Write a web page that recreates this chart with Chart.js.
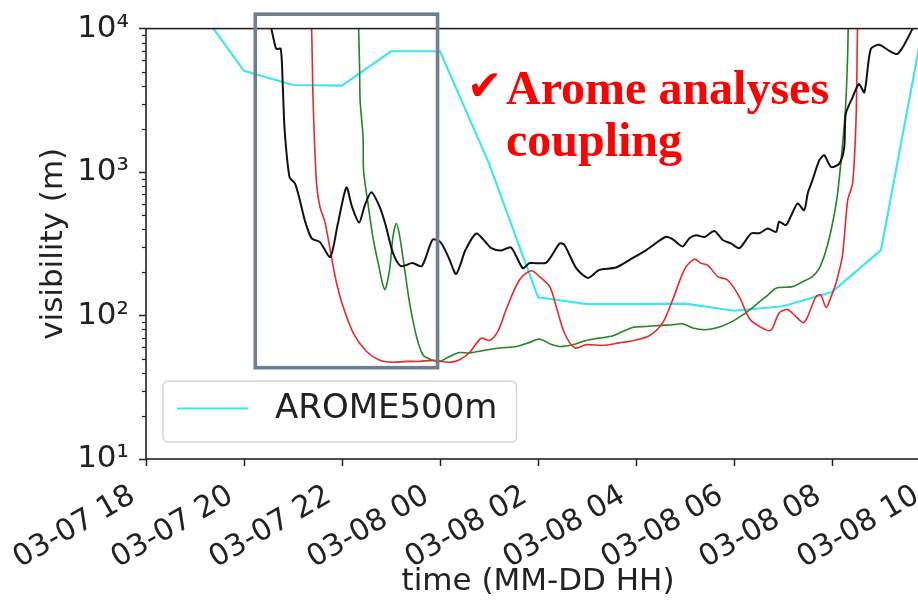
<!DOCTYPE html>
<html><head><meta charset="utf-8">
<script src="https://cdn.jsdelivr.net/npm/chart.js@4/dist/chart.umd.min.js"></script>
<style>
html,body{margin:0;padding:0;overflow:hidden;background:#fff;width:918px;height:601px}
#wrap{position:relative;width:960px;height:601px}
</style>
</head><body><div id="wrap"><canvas id="c" width="960" height="601"></canvas></div>
<script>
// ---- axis ticks ----
const xTickHours = [0, 2, 4, 6, 8, 10, 12, 14, 16];   // hours after 03-07 18:00
const xTickLabels = ['03-07 18', '03-07 20', '03-07 22', '03-08 00', '03-08 02', '03-08 04', '03-08 06', '03-08 08', '03-08 10'];
const yMajorTicks = [10, 100, 1000, 10000];
const yTickLabels = ['10¹', '10²', '10³', '10⁴'];

// ---- series (time in hours after 03-07 18:00, visibility in m) ----
const obsHours = [2.50,2.56,2.62,2.66,2.75,2.79,2.83,2.93,3.04,3.14,3.24,3.38,3.55,3.76,3.91,4.09,4.20,4.35,4.46,4.60,4.77,4.89,5.04,5.20,5.44,5.63,5.85,6.01,6.18,6.33,6.52,6.74,6.91,7.05,7.25,7.45,7.69,7.83,8.17,8.44,8.54,8.78,9.02,9.25,9.59,9.90,10.21,10.61,10.75,10.95,11.09,11.23,11.40,11.60,11.77,11.94,12.11,12.35,12.52,12.69,12.86,12.92,13.06,13.17,13.30,13.43,13.51,13.60,13.74,13.84,13.98,14.15,14.25,14.28,14.42,14.55,14.66,14.79,14.96,15.17,15.33,15.44,15.57,15.64,15.78];
const obsValues = [11500,9900,8000,7230,7230,4110,1950,919,834,636,462,345,325,256,427,783,580,445,580,722,569,427,273,221,232,221,338,325,252,195,286,373,331,295,284,298,214,232,234,318,310,214,183,208,216,248,286,354,340,303,346,363,353,389,336,318,295,373,375,404,383,450,427,500,605,542,722,875,1205,1310,1085,1145,1490,2540,3320,4110,3590,7190,7710,7000,6650,7380,8900,9900,11300];

const redHours = [3.35,3.38,3.41,3.48,3.55,3.65,3.79,3.89,4.02,4.23,4.50,4.77,5.04,5.31,5.59,5.86,6.20,6.40,6.60,6.84,7.01,7.18,7.35,7.62,7.86,8.03,8.24,8.37,8.54,8.75,8.98,9.32,9.66,9.93,10.27,10.54,10.75,10.99,11.19,11.33,11.46,11.67,11.87,12.11,12.31,12.52,12.75,12.92,13.09,13.23,13.43,13.67,13.77,13.88,13.98,14.08,14.21,14.32,14.42,14.49,14.52,14.53];
const redValues = [14000,9900,3150,834,571,450,251,168,116,75.5,56.2,48.7,47.2,47.9,47.9,48.7,47.2,49.2,55,69.5,67,77.5,110,177,205,187,159,116,75.5,59.5,62.6,62,64.5,66.7,72.3,88.5,129,210,247,231,225,187,177,135,95.7,83.9,78.7,104,110,101,89.4,135,139,114,135,168,257,636,834,2285,9900,13000];

const greenHours = [4.33,4.34,4.36,4.37,4.43,4.44,4.53,4.63,4.74,4.87,4.97,5.04,5.11,5.18,5.28,5.38,5.52,5.65,5.82,5.99,6.20,6.40,6.60,6.88,7.22,7.56,7.83,8.03,8.24,8.44,8.71,8.98,9.25,9.53,9.73,9.93,10.21,10.48,10.75,10.95,11.16,11.40,11.63,11.90,12.18,12.45,12.69,12.86,13.19,13.40,13.60,13.74,13.88,14.01,14.11,14.21,14.28,14.32,14.33,14.34];
const greenValues = [13000,9900,5080,3150,1750,1030,604,354,231,152,208,354,438,354,208,122,71.5,53.3,49.2,47.9,51.9,55.2,54.8,57.1,59.4,60.9,65,68.6,63.6,60.9,62.6,67,69.6,72.3,77.4,82.6,83.9,85.3,86.2,87.6,81.8,79.6,81.8,88.5,101,119,139,155,159,172,187,213,286,438,690,1490,2985,6640,9900,13000];

const aromeHours = [0, 1, 2, 3, 4, 5, 6, 7, 8, 9, 10, 11, 12, 13, 14, 15, 16];
const aromeValues = [20000,15000,5080,4045,4000,6950,6950,1150,134,120,120,121,108,116,146,286,18800];

const pts = (hs, vs) => hs.map((h, i) => ({x: h, y: vs[i]}));

// ---- annotation / frame plugin ----
const FONT = 'DejaVu Sans';
const extras = {
  id: 'extras',
  afterDraw(chart) {
    const {ctx, chartArea: a, scales: {x, y}} = chart;
    ctx.save();
    // minor y ticks
    ctx.strokeStyle = '#222'; ctx.lineWidth = 1.2;
    y.ticks.forEach(t => {
      if (t.major) return;
      const py = Math.round(y.getPixelForValue(t.value)) + 0.5;
      ctx.beginPath(); ctx.moveTo(a.left - 4, py); ctx.lineTo(a.left, py); ctx.stroke();
    });
    // frame
    ctx.strokeStyle = '#222'; ctx.lineWidth = 1.6;
    ctx.strokeRect(a.left, a.top, a.right - a.left, a.bottom - a.top);
    // highlight box (data coordinates)
    const x0 = x.getPixelForValue(2.23), x1 = x.getPixelForValue(5.95);
    const y0 = y.getPixelForValue(12600), y1 = y.getPixelForValue(43.3);
    ctx.strokeStyle = '#6f7f90'; ctx.lineWidth = 3.6;
    ctx.strokeRect(x0, y0, x1 - x0, y1 - y0);
    // legend
    const ds = chart.data.datasets[3];
    ctx.font = '34px "' + FONT + '"';
    const tw = ctx.measureText(ds.label).width;
    const bl = a.left + 17, bb = a.bottom - 17, bh = 61;
    const bw = 14 + 71 + 27 + tw + 19;
    ctx.beginPath();
    ctx.roundRect(bl, bb - bh, bw, bh, 5);
    ctx.fillStyle = 'rgba(255,255,255,0.8)'; ctx.fill();
    ctx.strokeStyle = '#d6d6d6'; ctx.lineWidth = 1.5; ctx.stroke();
    const ly = bb - bh / 2 - 3;
    ctx.strokeStyle = ds.borderColor; ctx.lineWidth = ds.borderWidth;
    ctx.beginPath(); ctx.moveTo(bl + 14, ly); ctx.lineTo(bl + 85, ly); ctx.stroke();
    ctx.fillStyle = '#222'; ctx.textBaseline = 'middle'; ctx.textAlign = 'left';
    ctx.fillText(ds.label, bl + 112, ly + 1);
    // red annotation
    ctx.fillStyle = '#ff0000';
    ctx.textBaseline = 'alphabetic';
    ctx.font = '42px "' + FONT + '"';
    ctx.fillText('✔', a.left + 321, a.top + 71);
    ctx.font = 'bold 48px "Liberation Serif"';
    ctx.fillText('Arome analyses', a.left + 360, a.top + 75);
    ctx.fillText('coupling', a.left + 360, a.top + 127);
    ctx.restore();
  }
};

new Chart(document.getElementById('c'), {
  type: 'line',
  data: {
    datasets: [
      {label: 'obs', data: pts(obsHours, obsValues), borderColor: '#111111', borderWidth: 2, tension: 0.25},
      {label: 'red', data: pts(redHours, redValues), borderColor: '#e8282a', borderWidth: 1.6, tension: 0.3},
      {label: 'green', data: pts(greenHours, greenValues), borderColor: '#238523', borderWidth: 1.6, tension: 0.3},
      {label: 'AROME500m', data: pts(aromeHours, aromeValues), borderColor: '#3ee6ee', borderWidth: 2.2, tension: 0}
    ]
  },
  options: {
    responsive: false, animation: false, devicePixelRatio: 1,
    layout: {padding: {top: 28, right: 29, left: 0, bottom: 0}},
    elements: {point: {radius: 0}},
    plugins: {legend: {display: false}, tooltip: {enabled: false}},
    scales: {
      x: {
        type: 'linear', min: 0, max: 16,
        afterBuildTicks: s => { s.ticks = xTickHours.map(v => ({value: v})); },
        afterFit: s => { s.height = 142; },
        ticks: {autoSkip: false, minRotation: 30, maxRotation: 30, padding: 12, labelOffset: -13, color: '#222',
          font: {family: FONT, size: 30},
          callback: v => xTickLabels[xTickHours.indexOf(v)]},
        grid: {drawOnChartArea: false, drawTicks: true, tickLength: 7, tickColor: '#222', tickWidth: 1.5},
        border: {display: false},
        title: {display: true, text: 'time (MM-DD HH)', color: '#222', font: {family: FONT, size: 31}, padding: {top: 0, bottom: 0}}
      },
      y: {
        type: 'logarithmic', min: 10, max: 10000,
        afterBuildTicks: s => {
          const t = [];
          yMajorTicks.forEach((m, i) => {
            t.push({value: m, major: true});
            if (i < yMajorTicks.length - 1) for (let k = 2; k <= 9; k++) t.push({value: m * k, major: false});
          });
          s.ticks = t;
        },
        afterFit: s => { s.width = 146; },
        ticks: {autoSkip: false, padding: 10, color: '#222', font: {family: FONT, size: 31},
          callback: v => { const i = yMajorTicks.indexOf(v); return i >= 0 ? yTickLabels[i] : ''; }},
        grid: {drawOnChartArea: false, drawTicks: true, tickLength: 7, tickWidth: 1.5,
          tickColor: c => (c.tick && c.tick.major) ? '#222' : 'rgba(0,0,0,0)'},
        border: {display: false},
        title: {display: true, text: 'visibility (m)', color: '#222', font: {family: FONT, size: 31}, padding: {top: 35, bottom: 0}}
      }
    }
  },
  plugins: [extras]
});
</script>
</body></html>
